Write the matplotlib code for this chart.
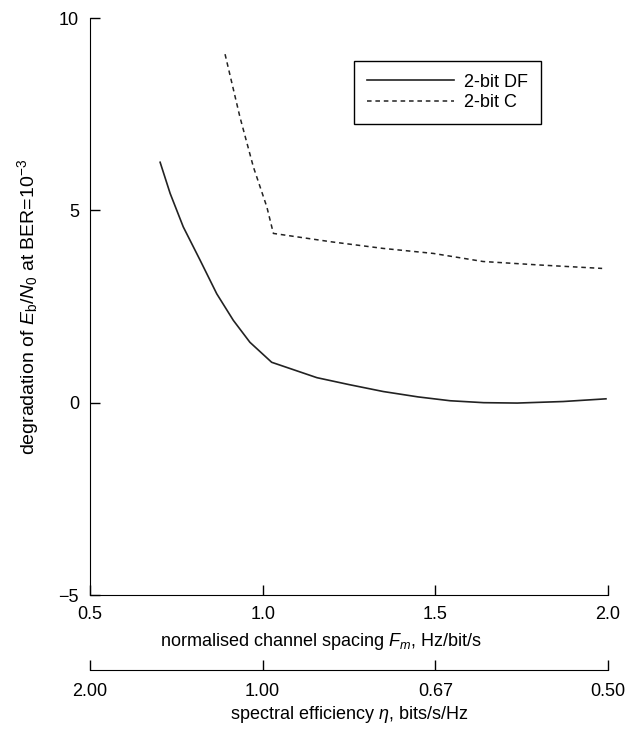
import numpy as np
import matplotlib.pyplot as plt

plt.rcParams['font.family'] = ['Liberation Sans', 'DejaVu Sans']
plt.rcParams['mathtext.fontset'] = 'custom'
plt.rcParams['mathtext.rm'] = 'Liberation Sans'
plt.rcParams['mathtext.it'] = 'Liberation Sans:italic'
plt.rcParams['font.size'] = 13

# degradation curves vs normalised channel spacing
fm_df = [0.703, 0.732, 0.770, 0.819, 0.867, 0.915, 0.963, 1.026,
         1.157, 1.25, 1.349, 1.45, 1.543, 1.64, 1.737, 1.87, 1.994]
deg_df = [6.25, 5.44, 4.57, 3.70, 2.83, 2.14, 1.57, 1.05,
          0.65, 0.47, 0.29, 0.15, 0.05, 0.0, -0.01, 0.03, 0.10]

fm_c = [0.891, 0.934, 0.973, 1.012, 1.031, 1.2, 1.349, 1.494, 1.638, 1.8, 1.983]
deg_c = [9.06, 7.43, 6.13, 5.09, 4.40, 4.18, 4.01, 3.88, 3.67, 3.58, 3.49]

fm_ticks = [0.5, 1.0, 1.5, 2.0]
eta_labels = ['2.00', '1.00', '0.67', '0.50']

fig = plt.figure(figsize=(6.43, 7.29), dpi=100)
ax = fig.add_axes([0.14, 0.1838, 0.8056, 0.7915])

ax.plot(fm_df, deg_df, color='#222222', lw=1.2, label='2-bit DF')
ax.plot(fm_c, deg_c, color='#222222', lw=1.1, ls=(0, (3, 2.5)), label='2-bit C')

ax.set_xlim(0.5, 2.0)
ax.set_ylim(-5, 10)
ax.set_xticks(fm_ticks)
ax.set_xticklabels(['0.5', '1.0', '1.5', '2.0'])
ax.set_yticks([-5, 0, 5, 10])
ax.spines['top'].set_visible(False)
ax.spines['right'].set_visible(False)
ax.tick_params(direction='in', length=7, width=1)
ax.tick_params(axis='x', pad=8)
ax.tick_params(axis='y', pad=8)

ax.set_xlabel('normalised channel spacing $F_m$, Hz/bit/s')
ax.xaxis.set_label_coords(0.445, -0.062)
ax.set_ylabel('degradation of $E_\\mathrm{b}/N_0$ at BER=10$^{-3}$', fontsize=14)
ax.yaxis.set_label_coords(-0.094, 0.5)

sec = ax.secondary_xaxis(-0.130)
sec.set_xticks(fm_ticks)
sec.set_xticklabels(eta_labels)
sec.tick_params(direction='in', length=7, width=1, pad=9)
sec.set_xlabel('spectral efficiency $\\eta$, bits/s/Hz', labelpad=3)

leg = ax.legend(loc='upper right', bbox_to_anchor=(0.8707, 0.9255), borderaxespad=0,
                handlelength=4.8, fancybox=False, edgecolor='black', framealpha=1,
                borderpad=0.7, labelspacing=0.2, handletextpad=0.6)
leg.get_frame().set_linewidth(1.0)

fig.savefig('out.png', dpi=100)
